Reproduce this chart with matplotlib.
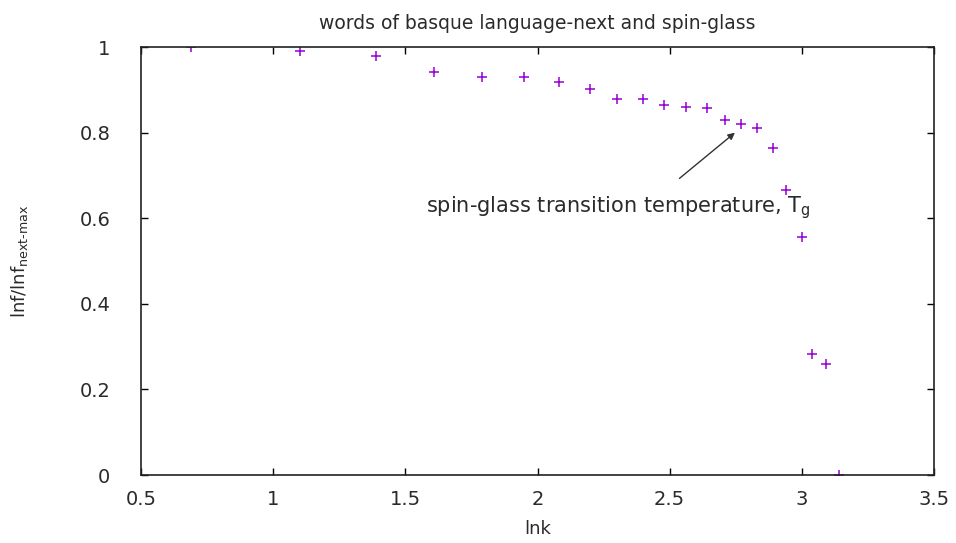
import matplotlib
matplotlib.use("Agg")
import matplotlib.pyplot as plt

# values (x = ln k, y = normalised lnf)
lnk = [0.69, 1.10, 1.39, 1.61, 1.79, 1.95, 2.08, 2.20, 2.30, 2.40, 2.48,
       2.56, 2.64, 2.71, 2.77, 2.83, 2.89, 2.94, 3.00, 3.04, 3.09, 3.14]
ratio = [1.0, 0.991, 0.979, 0.942, 0.930, 0.930, 0.918, 0.902, 0.879, 0.879,
         0.864, 0.860, 0.857, 0.829, 0.820, 0.811, 0.764, 0.666, 0.556,
         0.283, 0.259, 0.0]
xticks = [0.5, 1, 1.5, 2, 2.5, 3, 3.5]
yticks = [0, 0.2, 0.4, 0.6, 0.8, 1]

plt.rcParams['font.family'] = ['DejaVu Sans']
txt = '#2a2a2a'

fig = plt.figure(figsize=(9.56, 5.43), dpi=100)
ax = fig.add_axes([0.1475, 0.1252, 0.8295, 0.7882])

ax.plot(lnk, ratio, linestyle='none', marker='+', color='#9400d3',
        markersize=6.5, markeredgewidth=1.1)

ax.set_xlim(0.5, 3.5)
ax.set_ylim(0, 1)
ax.set_xticks(xticks)
ax.set_xticklabels(['0.5', '1', '1.5', '2', '2.5', '3', '3.5'])
ax.set_yticks(yticks)
ax.set_yticklabels(['0', '0.2', '0.4', '0.6', '0.8', '1'])
ax.tick_params(direction='in', top=True, right=True, length=5, width=1,
               labelsize=14, labelcolor=txt)
ax.tick_params(axis='y', pad=22)
ax.tick_params(axis='x', pad=11)
for s in ax.spines.values():
    s.set_linewidth(1.2)
    s.set_color('#222222')

ax.set_title('words of basque language-next and spin-glass', fontsize=13.5,
             color=txt, pad=13)
ax.set_xlabel('lnk', fontsize=13, color=txt, labelpad=8)
ax.set_ylabel(r'lnf/lnf$_{\mathrm{next\text{-}max}}$', fontsize=13, color=txt,
              labelpad=36)

ax.annotate('', xy=(2.755, 0.804), xytext=(2.529, 0.689),
            arrowprops=dict(arrowstyle='-|>', color='#333333', lw=1,
                            mutation_scale=10))
ax.text(1.58, 0.624, r'spin-glass transition temperature, T$_{\mathrm{g}}$',
        fontsize=15, color=txt, va='center', ha='left')

fig.savefig('out.png', dpi=100)
